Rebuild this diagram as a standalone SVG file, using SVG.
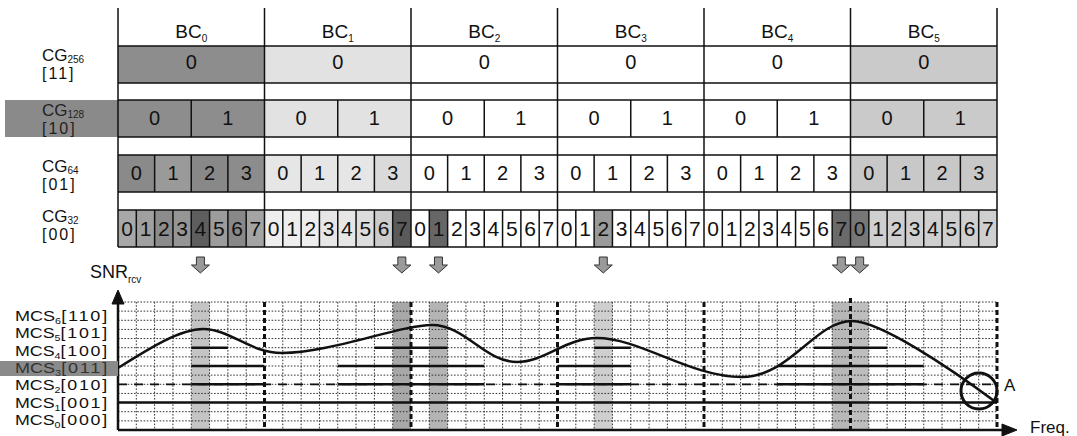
<svg xmlns="http://www.w3.org/2000/svg" width="1077" height="436" viewBox="0 0 1077 436">
<style>
text{font-family:"Liberation Sans",Arial,sans-serif;fill:#111}
.bc{font-size:19px;text-anchor:middle}
.sub{font-size:10px}
.msub{font-size:9px}
.d{font-size:20px;text-anchor:middle}
.d32{font-size:21px;text-anchor:middle}
.lab{font-size:17px}
.br{font-size:16px;letter-spacing:2px}
.mcs{font-size:15px}
.mb{letter-spacing:1.5px}
.tl{stroke:#111;stroke-width:1.5;fill:none}
.grid{stroke:#333;stroke-width:1;stroke-dasharray:1.6 1.6;fill:none}
.bcl{stroke:#111;stroke-width:3;stroke-dasharray:5 3;fill:none}
.lvl{stroke:#111;stroke-width:2.5;fill:none}
.arr{fill:#9a9a9a;stroke:#333;stroke-width:1}
.ax{stroke:#111;stroke-width:2.5;fill:none}
.head{fill:#111;stroke:#111;stroke-width:1}
</style>
<defs>
<path id="darr" d="M-4,0 H4 V8 H9 L0,16 L-9,8 H-4 Z"/>
</defs>

<g id="table-shading">
<rect x="118" y="46" width="146.5" height="37" fill="#8d8d8d"/>
<rect x="264.5" y="46" width="146.5" height="37" fill="#e2e2e2"/>
<rect x="850.5" y="46" width="146.5" height="37" fill="#cacaca"/>
<rect x="118" y="100" width="146.5" height="37" fill="#8d8d8d"/>
<rect x="264.5" y="100" width="146.5" height="37" fill="#e2e2e2"/>
<rect x="850.5" y="100" width="146.5" height="37" fill="#cacaca"/>
<rect x="118" y="155" width="36.63" height="37" fill="#8a8a8a"/>
<rect x="154.63" y="155" width="36.63" height="37" fill="#9a9a9a"/>
<rect x="191.25" y="155" width="36.63" height="37" fill="#888888"/>
<rect x="227.88" y="155" width="36.63" height="37" fill="#8c8c8c"/>
<rect x="264.5" y="155" width="109.88" height="37" fill="#e6e6e6"/>
<rect x="374.38" y="155" width="36.63" height="37" fill="#dadada"/>
<rect x="850.5" y="155" width="146.5" height="37" fill="#c8c8c8"/>
<rect x="118" y="210" width="18.31" height="37" fill="#a8a8a8"/>
<rect x="136.31" y="210" width="18.31" height="37" fill="#a0a0a0"/>
<rect x="154.63" y="210" width="18.31" height="37" fill="#8c8c8c"/>
<rect x="172.94" y="210" width="18.31" height="37" fill="#959595"/>
<rect x="191.25" y="210" width="18.31" height="37" fill="#5e5e5e"/>
<rect x="209.56" y="210" width="18.31" height="37" fill="#9c9c9c"/>
<rect x="227.88" y="210" width="18.31" height="37" fill="#888888"/>
<rect x="246.19" y="210" width="18.31" height="37" fill="#a4a4a4"/>
<rect x="264.5" y="210" width="54.94" height="37" fill="#eeeeee"/>
<rect x="319.44" y="210" width="36.63" height="37" fill="#e6e6e6"/>
<rect x="356.06" y="210" width="18.31" height="37" fill="#dddddd"/>
<rect x="374.38" y="210" width="18.31" height="37" fill="#cccccc"/>
<rect x="392.69" y="210" width="18.31" height="37" fill="#5a5a5a"/>
<rect x="429.31" y="210" width="18.31" height="37" fill="#666666"/>
<rect x="594.13" y="210" width="18.31" height="37" fill="#9a9a9a"/>
<rect x="832.19" y="210" width="18.31" height="37" fill="#6a6a6a"/>
<rect x="850.5" y="210" width="18.31" height="37" fill="#777777"/>
<rect x="868.81" y="210" width="128.19" height="37" fill="#cfcfcf"/>
<rect x="5" y="100" width="113" height="37" fill="#8a8a8a"/>
</g>

<g id="table-lines" class="tl">
<path d="M118,46H997M118,83H997M118,100H997M118,137H997M118,155H997M118,192H997M118,210H997M118,247H997"/>
<path d="M118,8V247M264.5,8V247M411,8V247M557.5,8V247M704,8V247M850.5,8V247M997,8V247"/>
<path d="M191.25,100V137M337.75,100V137M484.25,100V137M630.75,100V137M777.25,100V137M923.75,100V137"/>
<path d="M154.63,155V192M191.25,155V192M227.88,155V192M301.13,155V192M337.75,155V192M374.38,155V192M447.63,155V192M484.25,155V192M520.88,155V192M594.13,155V192M630.75,155V192M667.38,155V192M740.63,155V192M777.25,155V192M813.88,155V192M887.13,155V192M923.75,155V192M960.38,155V192"/>
<path d="M136.31,210V247M154.63,210V247M172.94,210V247M191.25,210V247M209.56,210V247M227.88,210V247M246.19,210V247M282.81,210V247M301.13,210V247M319.44,210V247M337.75,210V247M356.06,210V247M374.38,210V247M392.69,210V247M429.31,210V247M447.63,210V247M465.94,210V247M484.25,210V247M502.56,210V247M520.88,210V247M539.19,210V247M575.81,210V247M594.13,210V247M612.44,210V247M630.75,210V247M649.06,210V247M667.38,210V247M685.69,210V247M722.31,210V247M740.63,210V247M758.94,210V247M777.25,210V247M795.56,210V247M813.88,210V247M832.19,210V247M868.81,210V247M887.13,210V247M905.44,210V247M923.75,210V247M942.06,210V247M960.38,210V247M978.69,210V247"/>
</g>

<g id="bc-headers">
<text class="bc" x="191.25" y="38">BC<tspan class="sub" dy="4">0</tspan></text>
<text class="bc" x="337.75" y="38">BC<tspan class="sub" dy="4">1</tspan></text>
<text class="bc" x="484.25" y="38">BC<tspan class="sub" dy="4">2</tspan></text>
<text class="bc" x="630.75" y="38">BC<tspan class="sub" dy="4">3</tspan></text>
<text class="bc" x="777.25" y="38">BC<tspan class="sub" dy="4">4</tspan></text>
<text class="bc" x="923.75" y="38">BC<tspan class="sub" dy="4">5</tspan></text>
</g>

<g id="row-labels">
<text class="lab" x="42" y="61">CG<tspan class="sub" dy="2">256</tspan></text>
<text class="br" x="42" y="79">[11]</text>
<text class="lab" x="42" y="116" style="fill:#222">CG<tspan class="sub" dy="2">128</tspan></text>
<text class="br" x="42" y="134" style="fill:#222">[10]</text>
<text class="lab" x="42" y="172">CG<tspan class="sub" dy="2">64</tspan></text>
<text class="br" x="42" y="190">[01]</text>
<text class="lab" x="42" y="222">CG<tspan class="sub" dy="2">32</tspan></text>
<text class="br" x="42" y="240">[00]</text>
</g>

<g id="cg256-values">
<text class="d" x="191.25" y="69">0</text>
<text class="d" x="337.75" y="69">0</text>
<text class="d" x="484.25" y="69">0</text>
<text class="d" x="630.75" y="69">0</text>
<text class="d" x="777.25" y="69">0</text>
<text class="d" x="923.75" y="69">0</text>
</g>

<g id="cg128-values">
<text class="d" x="154.63" y="125">0</text><text class="d" x="227.88" y="125">1</text>
<text class="d" x="301.13" y="125">0</text><text class="d" x="374.38" y="125">1</text>
<text class="d" x="447.63" y="125">0</text><text class="d" x="520.88" y="125">1</text>
<text class="d" x="594.13" y="125">0</text><text class="d" x="667.38" y="125">1</text>
<text class="d" x="740.63" y="125">0</text><text class="d" x="813.88" y="125">1</text>
<text class="d" x="887.13" y="125">0</text><text class="d" x="960.38" y="125">1</text>
</g>

<g id="cg64-values">
<text class="d" x="136.31" y="180">0</text><text class="d" x="172.94" y="180">1</text><text class="d" x="209.56" y="180">2</text><text class="d" x="246.19" y="180">3</text>
<text class="d" x="282.81" y="180">0</text><text class="d" x="319.44" y="180">1</text><text class="d" x="356.06" y="180">2</text><text class="d" x="392.69" y="180">3</text>
<text class="d" x="429.31" y="180">0</text><text class="d" x="465.94" y="180">1</text><text class="d" x="502.56" y="180">2</text><text class="d" x="539.19" y="180">3</text>
<text class="d" x="575.81" y="180">0</text><text class="d" x="612.44" y="180">1</text><text class="d" x="649.06" y="180">2</text><text class="d" x="685.69" y="180">3</text>
<text class="d" x="722.31" y="180">0</text><text class="d" x="758.94" y="180">1</text><text class="d" x="795.56" y="180">2</text><text class="d" x="832.19" y="180">3</text>
<text class="d" x="868.81" y="180">0</text><text class="d" x="905.44" y="180">1</text><text class="d" x="942.06" y="180">2</text><text class="d" x="978.69" y="180">3</text>
</g>

<g id="cg32-values">
<text class="d32" x="127.16" y="236">0</text><text class="d32" x="145.47" y="236">1</text><text class="d32" x="163.78" y="236">2</text><text class="d32" x="182.09" y="236">3</text><text class="d32" x="200.41" y="236">4</text><text class="d32" x="218.72" y="236">5</text><text class="d32" x="237.03" y="236">6</text><text class="d32" x="255.34" y="236">7</text>
<text class="d32" x="273.66" y="236">0</text><text class="d32" x="291.97" y="236">1</text><text class="d32" x="310.28" y="236">2</text><text class="d32" x="328.59" y="236">3</text><text class="d32" x="346.91" y="236">4</text><text class="d32" x="365.22" y="236">5</text><text class="d32" x="383.53" y="236">6</text><text class="d32" x="401.84" y="236">7</text>
<text class="d32" x="420.16" y="236">0</text><text class="d32" x="438.47" y="236">1</text><text class="d32" x="456.78" y="236">2</text><text class="d32" x="475.09" y="236">3</text><text class="d32" x="493.41" y="236">4</text><text class="d32" x="511.72" y="236">5</text><text class="d32" x="530.03" y="236">6</text><text class="d32" x="548.34" y="236">7</text>
<text class="d32" x="566.66" y="236">0</text><text class="d32" x="584.97" y="236">1</text><text class="d32" x="603.28" y="236">2</text><text class="d32" x="621.59" y="236">3</text><text class="d32" x="639.91" y="236">4</text><text class="d32" x="658.22" y="236">5</text><text class="d32" x="676.53" y="236">6</text><text class="d32" x="694.84" y="236">7</text>
<text class="d32" x="713.16" y="236">0</text><text class="d32" x="731.47" y="236">1</text><text class="d32" x="749.78" y="236">2</text><text class="d32" x="768.09" y="236">3</text><text class="d32" x="786.41" y="236">4</text><text class="d32" x="804.72" y="236">5</text><text class="d32" x="823.03" y="236">6</text><text class="d32" x="841.34" y="236">7</text>
<text class="d32" x="859.66" y="236">0</text><text class="d32" x="877.97" y="236">1</text><text class="d32" x="896.28" y="236">2</text><text class="d32" x="914.59" y="236">3</text><text class="d32" x="932.91" y="236">4</text><text class="d32" x="951.22" y="236">5</text><text class="d32" x="969.53" y="236">6</text><text class="d32" x="987.84" y="236">7</text>
</g>

<g id="arrows">
<use href="#darr" class="arr" x="200.41" y="257"/>
<use href="#darr" class="arr" x="401.84" y="257"/>
<use href="#darr" class="arr" x="438.47" y="257"/>
<use href="#darr" class="arr" x="603.28" y="257"/>
<use href="#darr" class="arr" x="841.34" y="257"/>
<use href="#darr" class="arr" x="859.66" y="257"/>
</g>

<g id="bands">
<rect x="191.25" y="302" width="18.31" height="128" fill="#c4c4c4"/>
<rect x="392.69" y="302" width="18.31" height="128" fill="#a8a8a8"/>
<rect x="429.31" y="302" width="18.31" height="128" fill="#b4b4b4"/>
<rect x="594.13" y="302" width="18.31" height="128" fill="#cfcfcf"/>
<rect x="832.19" y="302" width="18.31" height="128" fill="#b8b8b8"/>
<rect x="850.5" y="302" width="18.31" height="128" fill="#bebebe"/>
</g>

<g id="grid">
<path class="grid" d="M118,302H997M118,311.14H997M118,320.29H997M118,329.43H997M118,338.57H997M118,347.71H997M118,356.86H997M118,366H997M118,375.14H997M118,384.29H997M118,393.43H997M118,402.57H997M118,411.71H997M118,420.86H997"/>
<path class="grid" d="M136.31,302V430M154.63,302V430M172.94,302V430M191.25,302V430M209.56,302V430M227.88,302V430M246.19,302V430M282.81,302V430M301.13,302V430M319.44,302V430M337.75,302V430M356.06,302V430M374.38,302V430M392.69,302V430M429.31,302V430M447.63,302V430M465.94,302V430M484.25,302V430M502.56,302V430M520.88,302V430M539.19,302V430M575.81,302V430M594.13,302V430M612.44,302V430M630.75,302V430M649.06,302V430M667.38,302V430M685.69,302V430M722.31,302V430M740.63,302V430M758.94,302V430M777.25,302V430M795.56,302V430M813.88,302V430M832.19,302V430M868.81,302V430M887.13,302V430M905.44,302V430M923.75,302V430M942.06,302V430M960.38,302V430M978.69,302V430"/>
<path class="bcl" d="M264.5,302V430M411,302V430M557.5,302V430M704,302V430M850.5,298V430M997,302V430"/>
</g>

<g id="levels">
<path class="lvl" d="M118,402.57H997"/>
<path class="lvl" style="stroke-width:1.8;stroke-dasharray:9 7" d="M118,384.29H997"/>
<path class="lvl" d="M191.25,384.29H264.5M337.75,384.29H484.25M557.5,384.29H630.75M777.25,384.29H923.75"/>
<path class="lvl" d="M191.25,366H264.5M337.75,366H484.25M557.5,366H630.75M777.25,366H923.75"/>
<path class="lvl" d="M191.25,347.71H227.88M374.38,347.71H447.63M594.13,347.71H630.75M813.88,347.71H887.13"/>
</g>

<g id="curve">
<path d="M118,368 C150,348 180,329 203,329 C230,329 250,353 282,353 C330,353 400,325 432,325 C465,325 485,362 517,362 C545,362 565,338 597,338 C640,338 690,377 742,377 C790,377 815,321 852,321 C880,321 950,368 997,403" fill="none" stroke="#111" stroke-width="2.5"/>
<circle cx="979" cy="391" r="18" fill="none" stroke="#111" stroke-width="3"/>
<text x="1004" y="391" style="font-size:17px">A</text>
</g>

<g id="axes">
<path class="ax" d="M118,430V302"/>
<path class="head" d="M112,304 L118,290 L124,304 Z"/>
<path class="ax" d="M118,430H1004"/>
<path class="head" d="M1002,424 L1017,430 L1002,436 Z"/>
<text x="90" y="278" style="font-size:18px">SNR<tspan class="sub" dy="5">rcv</tspan></text>
<text x="1030" y="433" style="font-size:17px">Freq.</text>
</g>

<g id="mcs-labels">
<rect x="0" y="361" width="118" height="15" fill="#8a8a8a"/>
<text class="mcs" x="15" y="321" textLength="94" lengthAdjust="spacingAndGlyphs">MCS<tspan class="msub" dy="3">6</tspan><tspan class="mb" dy="-3">[110]</tspan></text>
<text class="mcs" x="15" y="338.3" textLength="94" lengthAdjust="spacingAndGlyphs">MCS<tspan class="msub" dy="3">5</tspan><tspan class="mb" dy="-3">[101]</tspan></text>
<text class="mcs" x="15" y="355.6" textLength="94" lengthAdjust="spacingAndGlyphs">MCS<tspan class="msub" dy="3">4</tspan><tspan class="mb" dy="-3">[100]</tspan></text>
<text class="mcs" x="15" y="372.9" textLength="94" lengthAdjust="spacingAndGlyphs" style="fill:#333">MCS<tspan class="msub" dy="3">3</tspan><tspan class="mb" dy="-3">[011]</tspan></text>
<text class="mcs" x="15" y="390.2" textLength="94" lengthAdjust="spacingAndGlyphs">MCS<tspan class="msub" dy="3">2</tspan><tspan class="mb" dy="-3">[010]</tspan></text>
<text class="mcs" x="15" y="407.5" textLength="94" lengthAdjust="spacingAndGlyphs">MCS<tspan class="msub" dy="3">1</tspan><tspan class="mb" dy="-3">[001]</tspan></text>
<text class="mcs" x="15" y="424.8" textLength="94" lengthAdjust="spacingAndGlyphs">MCS<tspan class="msub" dy="3">0</tspan><tspan class="mb" dy="-3">[000]</tspan></text>
</g>
</svg>
